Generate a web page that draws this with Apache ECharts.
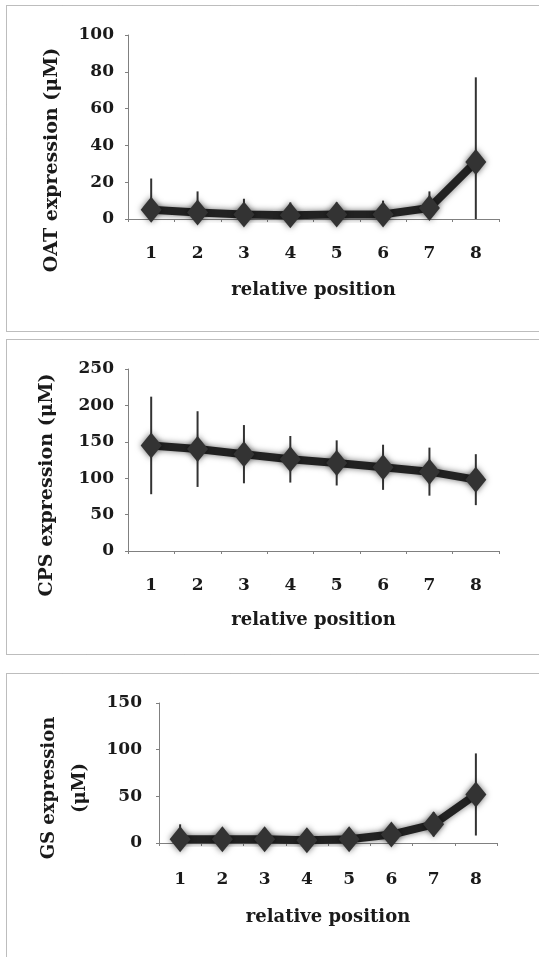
<!DOCTYPE html>
<html><head><meta charset="utf-8">
<script src="https://cdn.jsdelivr.net/npm/echarts@6/dist/echarts.min.js"></script>
<style>html,body{margin:0;padding:0;background:#fff}#c{width:539px;height:957px}</style>
</head><body><div id="c"></div>
<script>
const categories = ['1','2','3','4','5','6','7','8'];
const oatMean = [5, 3.5, 2.5, 2, 2.5, 2.5, 6, 31];
const oatSD   = [17, 11.5, 8.5, 7, 6.5, 7.5, 9, 46];
const cpsMean = [145, 140, 133, 126, 121, 115, 109, 98];
const cpsSD   = [67, 52, 40, 32, 31, 31, 33, 35];
const gsMean  = [4, 4, 4, 3, 4, 9, 20, 52];
const gsSD    = [16, 6, 5, 5, 6, 6, 13, 44];
const oatAxis = [0, 100, 20];
const cpsAxis = [0, 250, 50];
const gsAxis  = [0, 150, 50];
const titles = ['OAT expression (μM)', 'CPS expression (μM)', 'GS expression\n(μM)'];
const xTitle = 'relative position';

const FONT = 'DejaVu Serif';
const TXT = '#1a1a1a';
const chart = echarts.init(document.getElementById('c'));

const grids = [
  {left:128, top:35, width:371, height:184, outerBoundsMode:'none', containLabel:false},
  {left:128, top:369, width:371, height:182, outerBoundsMode:'none', containLabel:false},
  {left:159, top:703, width:338, height:140, outerBoundsMode:'none', containLabel:false}
];
const axes = [oatAxis, cpsAxis, gsAxis];
const means = [oatMean, cpsMean, gsMean];
const sds = [oatSD, cpsSD, gsSD];
const yNameGap = [60, 65, 60];
const yNamePad = [[0,66,0,0],[0,50,0,0],[0,30,0,0]];
const yNameSize = [19, 19, 18];
const xLabelMargin = [26, 26, 28];
const xNameGap = [62, 60, 65];
const yLabelMargin = [14, 14, 17];

const xAxis = [], yAxis = [], series = [];
for (let i = 0; i < 3; i++) {
  xAxis.push({
    type:'category', gridIndex:i, data:categories, boundaryGap:true,
    axisLine:{lineStyle:{color:'#808080', width:1}},
    axisTick:{show:true, length:3, lineStyle:{color:'#808080'}},
    axisLabel:{interval:0, margin:xLabelMargin[i], color:TXT, fontFamily:FONT, fontWeight:'bold', fontSize:17},
    name:xTitle, nameLocation:'middle', nameGap:xNameGap[i],
    nameTextStyle:{color:TXT, fontFamily:FONT, fontWeight:'bold', fontSize:18},
    splitLine:{show:false}
  });
  yAxis.push({
    type:'value', gridIndex:i, min:axes[i][0], max:axes[i][1], interval:axes[i][2],
    axisLine:{show:true, lineStyle:{color:'#808080', width:1}},
    axisTick:{show:true, length:3, lineStyle:{color:'#808080'}},
    axisLabel:{margin:yLabelMargin[i], color:TXT, fontFamily:FONT, fontWeight:'bold', fontSize:17},
    splitLine:{show:false},
    name:titles[i], nameLocation:'middle', nameGap:yNameGap[i], nameRotate:90,
    nameTextStyle:{color:TXT, fontFamily:FONT, fontWeight:'bold', fontSize:yNameSize[i], lineHeight:31, padding:yNamePad[i]}
  });
  const errData = means[i].map((m, k) => [k, Math.max(0, m - sds[i][k]), m + sds[i][k]]);
  series.push({
    type:'custom', xAxisIndex:i, yAxisIndex:i, data:errData, z:1,
    renderItem:(params, api) => {
      const p1 = api.coord([api.value(0), api.value(1)]);
      const p2 = api.coord([api.value(0), api.value(2)]);
      return {type:'line', shape:{x1:p1[0], y1:p1[1], x2:p2[0], y2:p2[1]},
              style:{stroke:'#333', lineWidth:2}};
    }
  });
  series.push({
    type:'line', xAxisIndex:i, yAxisIndex:i, data:means[i], z:2,
    symbol:'diamond', symbolSize:[21,26],
    lineStyle:{color:'#222', width:8, shadowBlur:6, shadowColor:'rgba(0,0,0,0.55)'},
    itemStyle:{color:'#333', shadowBlur:6, shadowColor:'rgba(0,0,0,0.55)'},
    emphasis:{disabled:true}, animation:false
  });
}

const borderStyle = {fill:'none', stroke:'#7a7a7a', lineWidth:1, lineDash:[1,1]};
chart.setOption({
  backgroundColor:'#fff',
  animation:false,
  grid:grids,
  xAxis, yAxis, series,
  graphic:[
    {type:'rect', shape:{x:6.5, y:5.5, width:540, height:326}, style:borderStyle, silent:true},
    {type:'rect', shape:{x:6.5, y:339.5, width:540, height:315}, style:borderStyle, silent:true},
    {type:'rect', shape:{x:6.5, y:673.5, width:540, height:300}, style:borderStyle, silent:true}
  ]
});
</script></body></html>
